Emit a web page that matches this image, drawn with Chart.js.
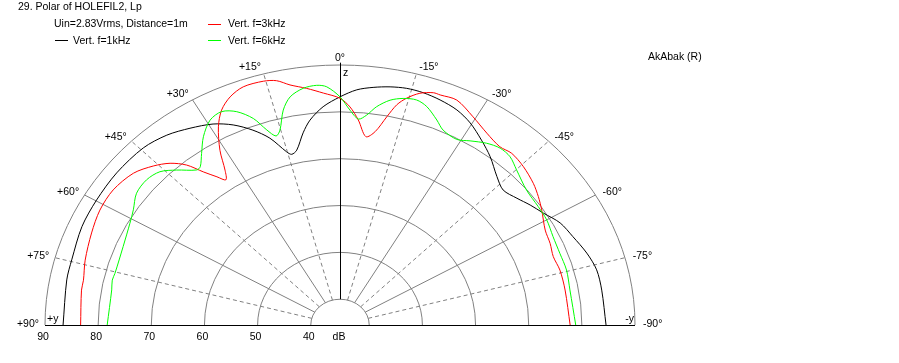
<!DOCTYPE html>
<html>
<head>
<meta charset="utf-8">
<script src="https://cdn.jsdelivr.net/npm/chart.js"></script>
<style>
  body { margin: 0; background: #fff; }
  #wrap { position: relative; width: 899px; height: 363px; }
</style>
</head>
<body>
<div id="wrap"><canvas id="polarChart"></canvas></div>

<script>
    // radial scale (dB) and grid
    const dbMin = 34.5;
    const dbMax = 90;
    const ringLevels = [40, 50, 60, 70, 80, 90];
    const tickLabels = ['90', '80', '70', '60', '50', '40'];
    const spokeAngles = [75, 60, 45, 30, 15, -15, -30, -45, -60, -75];
    const angleLabels = [90, 75, 60, 45, 30, 15, 0, -15, -30, -45, -60, -75, -90];

    // Vert. f=1kHz
    const angles1k = [90, 79.4, 74.6, 66.6, 59.8, 52.3, 44.4, 38.8, 33.9, 29.1, 25.2, 21.5, 18.3, 15.2, 14.0, 12.3, 9.6, 7.35, 3.9, 0,
        -3.6, -7.0, -10.5, -13.95, -17.5, -21.4, -25.6, -29.6, -34.0, -38.2, -43.0, -46.8, -50.9, -54.4, -58.0, -62.25, -66.7, -71.7, -76.3, -81.4, -90];
    const levels1k = [86.6, 86.8, 86.85, 87.4, 87.5, 87.6, 87.4, 86.5, 85.1, 83.6, 81.7, 79.2, 76.5, 72.8, 72.05, 72.7, 76.1, 78.6, 81.2, 83.2,
        84.8, 85.6, 86.2, 86.55, 86.5, 86.1, 85.4, 84.1, 82.1, 80.2, 77.8, 76.6, 77.4, 78.5, 79.6, 81.3, 82.2, 83.4, 84.2, 84.3, 84.55];

    // Vert. f=3kHz
    const angles3k = [90, 81.3, 78.8, 73.9, 67.2, 61.5, 55.95, 50.2, 46.0, 42.8, 40.2, 38.2, 36.2, 34.7, 33.2, 31.2, 28.4, 25.9, 23.0, 19.7,
        15.5, 12.9, 10.4, 7.1, 3.6, 0, -2.3, -4.5, -6.9, -9.1, -11.2, -12.8, -14.5, -16.9, -19.5, -21.0, -24.6, -29.4, -34.0, -38.3,
        -41.4, -45.6, -50.25, -53.7, -57.1, -62.3, -66.2, -70.0, -74.2, -80.0, -90];
    const levels3k = [83.3, 83.7, 83.7, 84.4, 85.2, 85.9, 86.0, 85.1, 83.35, 81.55, 79.2, 76.1, 73.7, 72.2, 74.0, 78.1, 82.6, 85.5, 87.4, 88.5,
        88.5, 88.0, 86.6, 85.4, 84.1, 82.9, 81.1, 78.4, 75.0, 76.3, 79.8, 82.7, 84.5, 86.2, 87.1, 87.1, 87.3, 85.5, 83.9, 83.0,
        83.35, 82.8, 81.8, 80.8, 79.7, 78.1, 77.7, 77.2, 77.5, 77.5, 77.8];

    // Vert. f=6kHz
    const angles6k = [90, 80.1, 77.4, 75.4, 67.7, 61.2, 57.7, 53.7, 49.6, 46.0, 42.9, 39.2, 37.9, 35.4, 32.6, 29.2, 26.05, 23.1, 20.3, 18.3,
        16.6, 15.2, 13.1, 10.9, 7.8, 4.9, 2.8, 0, -2.35, -4.5, -6.4, -8.4, -11.1, -13.8, -16.7, -19.3, -22.6, -25.0, -29.0, -31.9,
        -35.4, -38.6, -41.7, -45.1, -50.6, -55.9, -60.0, -64.8, -69.7, -74.6, -80.2, -90];
    const levels6k = [78.3, 78.1, 78.4, 78.25, 78.6, 79.6, 80.5, 82.0, 82.3, 81.6, 79.65, 77.2, 77.3, 79.45, 82.2, 84.6, 85.2, 84.0, 81.5, 78.35,
        76.6, 77.6, 81.6, 84.1, 85.5, 85.85, 85.4, 83.2, 80.4, 78.6, 79.6, 81.6, 83.4, 84.3, 84.65, 83.9, 81.9, 80.4, 79.8, 80.8,
        82.1, 82.8, 82.6, 81.4, 79.9, 79.55, 79.4, 78.8, 78.6, 78.7, 78.4, 78.85];

    const FONT = '10.5px "Liberation Sans", Arial, sans-serif';
    const GRID = '#808080';

    // +angle is to the left, 0 deg points up
    function toXY(angles, levels) {
        return angles.map((a, i) => {
            const r = Math.max(0, levels[i] - dbMin);
            const t = a * Math.PI / 180;
            return { x: -r * Math.sin(t), y: r * Math.cos(t) };
        });
    }

    const polarGrid = {
        id: 'polarGrid',
        beforeDatasetsDraw(chart) {
            const ctx = chart.ctx;
            const xs = chart.scales.x, ys = chart.scales.y;
            const cx = xs.getPixelForValue(0), cy = ys.getPixelForValue(0);
            const px = (a, r) => xs.getPixelForValue(-r * Math.sin(a * Math.PI / 180));
            const py = (a, r) => ys.getPixelForValue(r * Math.cos(a * Math.PI / 180));
            const r0 = ringLevels[0] - dbMin, r1 = dbMax - dbMin;

            ctx.save();
            ctx.lineWidth = 1;
            ctx.strokeStyle = GRID;
            // rings
            ringLevels.forEach(lvl => {
                const r = lvl - dbMin;
                ctx.beginPath();
                ctx.ellipse(cx, cy, xs.getPixelForValue(r) - cx, cy - ys.getPixelForValue(r), 0, Math.PI, 2 * Math.PI);
                ctx.stroke();
            });
            // spokes
            spokeAngles.forEach(a => {
                ctx.setLineDash(a % 30 === 0 ? [] : [4, 3]);
                ctx.beginPath();
                ctx.moveTo(px(a, r0), py(a, r0));
                ctx.lineTo(px(a, r1), py(a, r1));
                ctx.stroke();
            });
            ctx.setLineDash([]);
            // axes
            ctx.strokeStyle = '#000';
            ctx.beginPath();
            ctx.moveTo(px(90, r1), cy + 0.5);
            ctx.lineTo(px(-90, r1), cy + 0.5);
            ctx.moveTo(Math.round(cx) + 0.5, py(0, r0));
            ctx.lineTo(Math.round(cx) + 0.5, py(0, r1 + 0.5));
            ctx.stroke();

            // angle labels
            ctx.fillStyle = '#000';
            ctx.font = FONT;
            ctx.textBaseline = 'middle';
            angleLabels.forEach(a => {
                const t = a * Math.PI / 180;
                const s = Math.abs(Math.sin(t)), c = Math.cos(t);
                const x0 = px(a, r1), y0 = py(a, r1) - 1 - 6 * c * c;
                if (a > 0) {
                    ctx.textAlign = 'right';
                    ctx.fillText('+' + a + '°', x0 - 1.5 - 4.5 * s, y0);
                } else if (a < 0) {
                    ctx.textAlign = 'left';
                    ctx.fillText(a + '°', x0 + 1 + 7 * s, y0);
                } else {
                    ctx.textAlign = 'center';
                    ctx.fillText('0°', x0, y0);
                }
            });
            // dB tick labels
            ctx.textAlign = 'center';
            ringLevels.slice().reverse().forEach((lvl, i) => {
                ctx.fillText(tickLabels[i], xs.getPixelForValue(-(lvl - dbMin)) - 2, cy + 12);
            });
            ctx.fillText('dB', cx - 1, cy + 12);
            // axis names
            ctx.textAlign = 'left';
            ctx.fillText('+y', px(90, r1) + 2, cy - 6);
            ctx.fillText('z', cx + 3, py(0, r1) + 8);
            ctx.textAlign = 'right';
            ctx.fillText('-y', px(-90, r1) - 1, cy - 6);
            ctx.restore();
        },
        afterDraw(chart) {
            const ctx = chart.ctx;
            ctx.save();
            ctx.fillStyle = '#000';
            ctx.font = FONT;
            ctx.textBaseline = 'middle';
            ctx.textAlign = 'left';
            ctx.fillText('29. Polar of HOLEFIL2, Lp', 18, 7);
            ctx.fillText('Uin=2.83Vrms, Distance=1m', 54, 24);
            ctx.fillText('Vert. f=1kHz', 73, 41);
            ctx.fillText('Vert. f=3kHz', 228, 24);
            ctx.fillText('Vert. f=6kHz', 228, 41);
            ctx.fillText('AkAbak (R)', 648, 57);
            const swatch = (color, x, y) => {
                ctx.strokeStyle = color;
                ctx.lineWidth = 1;
                ctx.beginPath();
                ctx.moveTo(x, y + 0.5);
                ctx.lineTo(x + 13, y + 0.5);
                ctx.stroke();
            };
            swatch('#000000', 55, 40);
            swatch('#ff0000', 208, 24);
            swatch('#00ff00', 208, 40);
            ctx.restore();
        }
    };

    const ctxPolar = document.getElementById('polarChart');
    new Chart(ctxPolar, {
        type: 'scatter',
        data: {
            datasets: [
                {
                    label: 'Vert. f=1kHz',
                    data: toXY(angles1k, levels1k),
                    borderColor: '#000000',
                    order: 3
                },
                {
                    label: 'Vert. f=3kHz',
                    data: toXY(angles3k, levels3k),
                    borderColor: '#ff0000',
                    order: 2
                },
                {
                    label: 'Vert. f=6kHz',
                    data: toXY(angles6k, levels6k),
                    borderColor: '#00ff00',
                    order: 1
                }
            ]
        },
        options: {
            responsive: true,
            maintainAspectRatio: false,
            animation: false,
            layout: { padding: { left: 45, right: 264, top: 65, bottom: 38 } },
            elements: {
                line: { borderWidth: 1, tension: 0.3, fill: false },
                point: { radius: 0, hoverRadius: 0 }
            },
            datasets: { scatter: { showLine: true, clip: false } },
            scales: {
                x: { type: 'linear', min: -(dbMax - dbMin), max: dbMax - dbMin, display: false },
                y: { type: 'linear', min: 0, max: dbMax - dbMin, display: false }
            },
            plugins: {
                legend: { display: false },
                tooltip: { enabled: false }
            },
            events: []
        },
        plugins: [polarGrid]
    });
</script>
</body>
</html>
